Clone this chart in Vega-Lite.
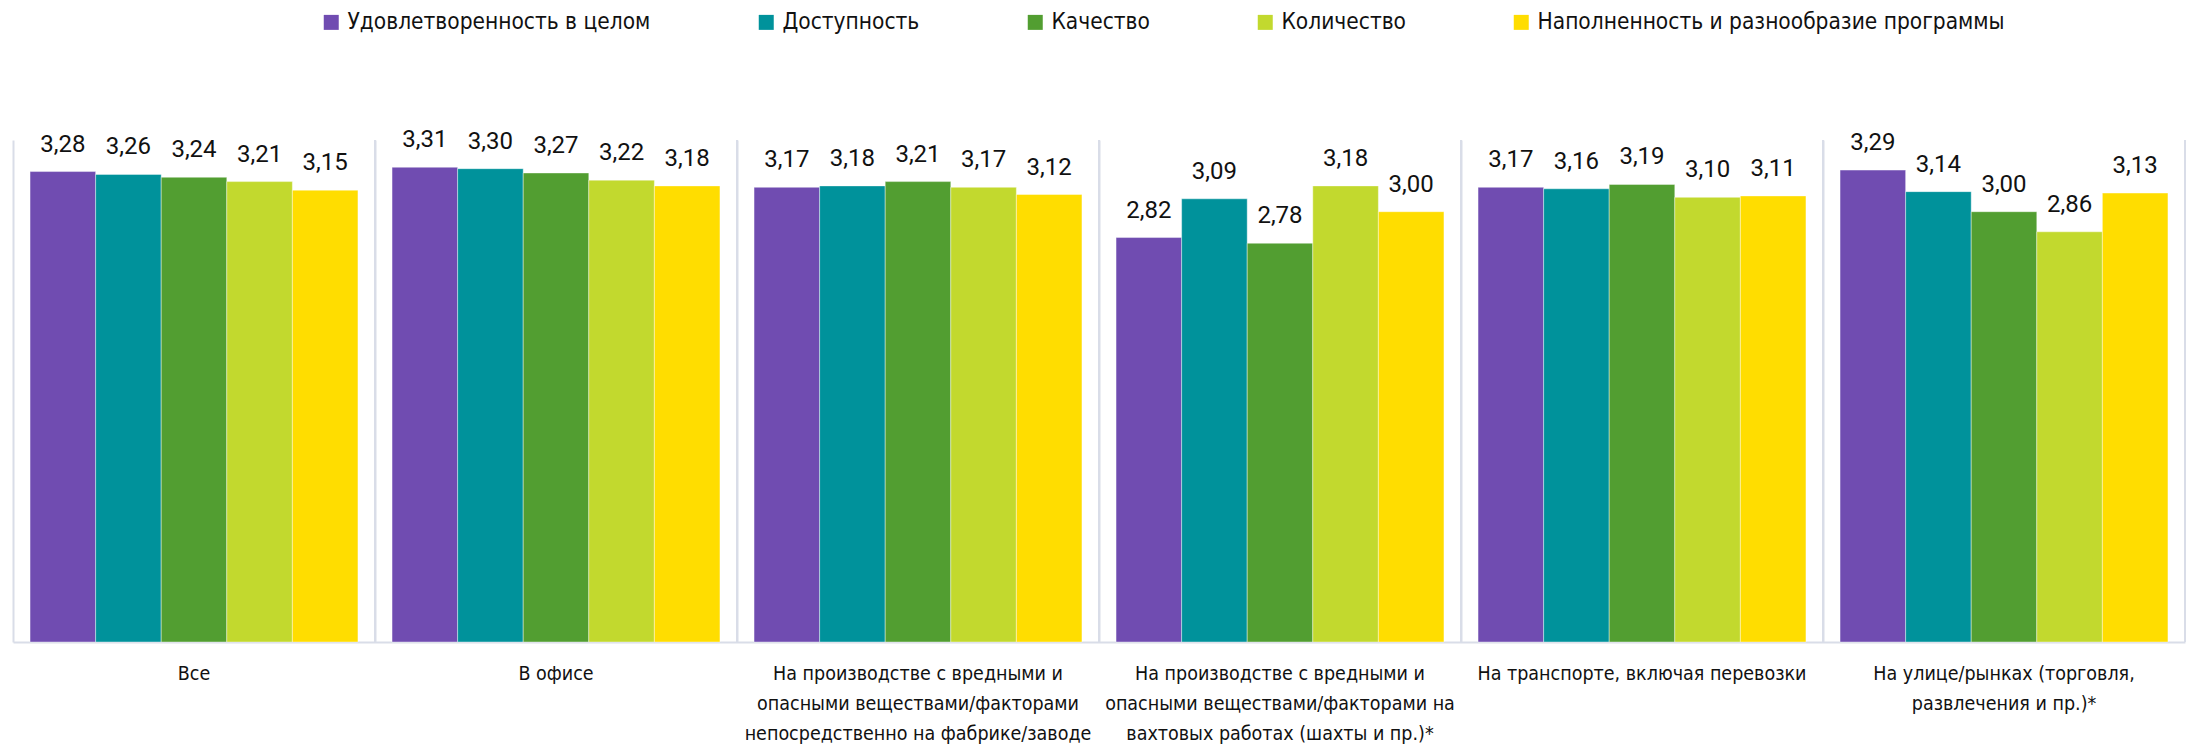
{
  "$schema": "https://vega.github.io/schema/vega-lite/v6.json",
  "width": 2172,
  "height": 502,
  "autosize": {"type": "none"},
  "padding": {"left": 13, "top": 140, "right": 3, "bottom": 102},
  "config": {
    "locale": {"number": {"decimal": ",", "thousands": " ", "grouping": [3], "currency": ["", ""]}},
    "view": {"stroke": null},
    "font": "Roboto"
  },
  "data": {
    "values": [
      {"category": "Все", "series": "Удовлетворенность в целом", "value": 3.28},
      {"category": "Все", "series": "Доступность", "value": 3.26},
      {"category": "Все", "series": "Качество", "value": 3.24},
      {"category": "Все", "series": "Количество", "value": 3.21},
      {"category": "Все", "series": "Наполненность и разнообразие программы", "value": 3.15},
      {"category": "В офисе", "series": "Удовлетворенность в целом", "value": 3.31},
      {"category": "В офисе", "series": "Доступность", "value": 3.30},
      {"category": "В офисе", "series": "Качество", "value": 3.27},
      {"category": "В офисе", "series": "Количество", "value": 3.22},
      {"category": "В офисе", "series": "Наполненность и разнообразие программы", "value": 3.18},
      {"category": "На производстве с вредными и\nопасными веществами/факторами\nнепосредственно на фабрике/заводе", "series": "Удовлетворенность в целом", "value": 3.17},
      {"category": "На производстве с вредными и\nопасными веществами/факторами\nнепосредственно на фабрике/заводе", "series": "Доступность", "value": 3.18},
      {"category": "На производстве с вредными и\nопасными веществами/факторами\nнепосредственно на фабрике/заводе", "series": "Качество", "value": 3.21},
      {"category": "На производстве с вредными и\nопасными веществами/факторами\nнепосредственно на фабрике/заводе", "series": "Количество", "value": 3.17},
      {"category": "На производстве с вредными и\nопасными веществами/факторами\nнепосредственно на фабрике/заводе", "series": "Наполненность и разнообразие программы", "value": 3.12},
      {"category": "На производстве с вредными и\nопасными веществами/факторами на\nвахтовых работах (шахты и пр.)*", "series": "Удовлетворенность в целом", "value": 2.82},
      {"category": "На производстве с вредными и\nопасными веществами/факторами на\nвахтовых работах (шахты и пр.)*", "series": "Доступность", "value": 3.09},
      {"category": "На производстве с вредными и\nопасными веществами/факторами на\nвахтовых работах (шахты и пр.)*", "series": "Качество", "value": 2.78},
      {"category": "На производстве с вредными и\nопасными веществами/факторами на\nвахтовых работах (шахты и пр.)*", "series": "Количество", "value": 3.18},
      {"category": "На производстве с вредными и\nопасными веществами/факторами на\nвахтовых работах (шахты и пр.)*", "series": "Наполненность и разнообразие программы", "value": 3.00},
      {"category": "На транспорте, включая перевозки", "series": "Удовлетворенность в целом", "value": 3.17},
      {"category": "На транспорте, включая перевозки", "series": "Доступность", "value": 3.16},
      {"category": "На транспорте, включая перевозки", "series": "Качество", "value": 3.19},
      {"category": "На транспорте, включая перевозки", "series": "Количество", "value": 3.10},
      {"category": "На транспорте, включая перевозки", "series": "Наполненность и разнообразие программы", "value": 3.11},
      {"category": "На улице/рынках (торговля,\nразвлечения и пр.)*", "series": "Удовлетворенность в целом", "value": 3.29},
      {"category": "На улице/рынках (торговля,\nразвлечения и пр.)*", "series": "Доступность", "value": 3.14},
      {"category": "На улице/рынках (торговля,\nразвлечения и пр.)*", "series": "Качество", "value": 3.00},
      {"category": "На улице/рынках (торговля,\nразвлечения и пр.)*", "series": "Количество", "value": 2.86},
      {"category": "На улице/рынках (торговля,\nразвлечения и пр.)*", "series": "Наполненность и разнообразие программы", "value": 3.13}
    ]
  },
  "encoding": {
    "x": {
      "field": "category", "type": "nominal", "sort": null,
      "scale": {"paddingInner": 0, "paddingOuter": 0},
      "axis": {
        "title": null, "labelAngle": 0, "ticks": false, "grid": true, "bandPosition": 0,
        "gridColor": "#d9dde8", "gridWidth": 2, "domainColor": "#d9dde8", "domainWidth": 2,
        "labelExpr": "split(datum.value, '\\n')",
        "labelFont": "DejaVu Sans Condensed", "labelFontSize": 19.5, "labelColor": "#111111",
        "labelLineHeight": 30, "labelPadding": 22, "labelBaseline": "top", "labelLimit": 0
      }
    }
  },
  "layer": [
    {
      "mark": {"type": "bar", "stroke": "#ffffff", "strokeWidth": 1, "strokeOpacity": 0.4},
      "encoding": {
        "xOffset": {"field": "series", "type": "nominal", "sort": null, "scale": {"paddingInner": 0, "paddingOuter": 0.26}},
        "y": {"field": "value", "type": "quantitative", "scale": {"domain": [0, 3.5], "nice": false}, "axis": null},
        "color": {
          "field": "series", "type": "nominal", "sort": null,
          "scale": {"range": ["#704cb1", "#00929b", "#529e31", "#c2d92e", "#ffdd00"]},
          "legend": {
            "title": null, "orient": "none", "direction": "horizontal", "legendX": 307, "legendY": -129,
            "symbolType": "square", "symbolSize": 225, "symbolStrokeWidth": 0,
            "labelFont": "DejaVu Sans Condensed", "labelFontSize": 22.5, "labelColor": "#111111",
            "labelOffset": 5, "columnPadding": 104, "labelLimit": 0
          }
        }
      }
    },
    {
      "mark": {"type": "text", "baseline": "alphabetic", "dy": -20, "fontSize": 24, "font": "Roboto", "color": "#111111"},
      "encoding": {
        "xOffset": {"field": "series", "type": "nominal", "sort": null, "scale": {"paddingInner": 0, "paddingOuter": 0.26}},
        "y": {"field": "value", "type": "quantitative"},
        "text": {"field": "value", "type": "quantitative", "format": ".2f"}
      }
    },
    {
      "transform": [{"aggregate": [{"op": "count", "as": "n"}], "groupby": ["category"]}],
      "mark": {"type": "rule", "color": "#d9dde8", "strokeWidth": 2},
      "encoding": {
        "x": {"field": "category", "type": "nominal", "sort": null, "bandPosition": 1}
      }
    }
  ]
}
